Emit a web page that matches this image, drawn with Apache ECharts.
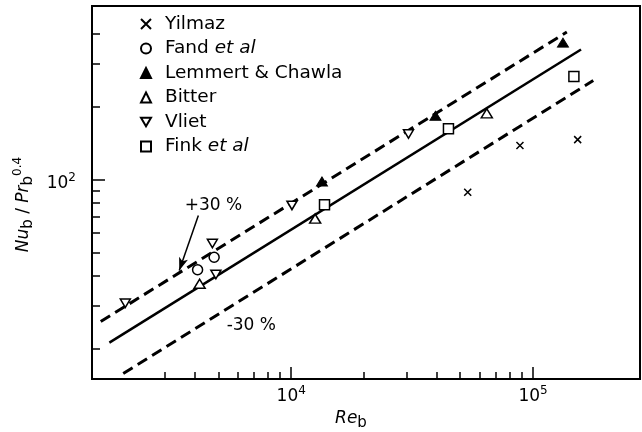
<!DOCTYPE html>
<html>
<head>
<meta charset="utf-8">
<script src="https://cdn.jsdelivr.net/npm/echarts@6/dist/echarts.min.js"></script>
<style>
html,body{margin:0;padding:0;background:#fff;}
#main{width:642px;height:432px;}
</style>
</head>
<body>
<div id="main"></div>
<script>
// points: Re_b and Nu_b/Pr_b^0.4
var yilmazRe = [53700, 88300, 153000];
var yilmazNu = [88.6, 138, 146];
var fandRe = [4100, 4800];
var fandNu = [42.4, 47.7];
var lemmertRe = [13400, 39500, 133000];
var lemmertNu = [98.1, 183, 367];
var bitterRe = [4180, 12560, 64400];
var bitterNu = [37.1, 68.9, 187.5];
var vlietRe = [2060, 4720, 4880, 10070, 30550];
var vlietNu = [30.8, 54.4, 40.5, 78.1, 154];
var finkRe = [13730, 44700, 147600];
var finkNu = [78.6, 162, 266];

// correlation and +-30% lines (end points)
var corrRe = [1770, 158000];
var corrNu = [21.2, 344];
var upperRe = [1630, 138000];
var upperNu = [25.9, 406];
var lowerRe = [2020, 177500];
var lowerNu = [15.8, 256];

// tick values
var xMajor = [10000, 100000];
var xMinor = [3000, 4000, 5000, 6000, 7000, 8000, 9000, 20000, 30000, 40000, 50000, 60000, 70000, 80000, 90000];
var yMajor = [100];
var yMinor = [20, 30, 40, 50, 60, 70, 80, 90, 200, 300, 400];

// annotation positions (data coords)
var plusLabel = [4770, 78.1];
var minusLabel = [6840, 24.9];
var arrowFrom = [4130, 71.0];
var arrowTo = [3443, 42.1];

var FONT = 'DejaVu Sans';

function pairs(xs, ys){
	var out = [];
	for(var i=0;i<xs.length;i++){
		out.push([xs[i], ys[i]]);
	}
	return out;
}

var crossPath = 'path://M0,0L10,10M10,0L0,10';
var downTri = 'path://M0,0L10,0L5,8.5Z';

var powRich = {
	b: {fontFamily: FONT, fontSize: 17, lineHeight: 24, color: '#000'},
	s: {fontFamily: FONT, fontSize: 12, lineHeight: 12, verticalAlign: 'top', color: '#000'}
};
var nameRich = {
	i: {fontFamily: FONT, fontSize: 17, fontStyle: 'italic', lineHeight: 24, color: '#000'},
	n: {fontFamily: FONT, fontSize: 17, lineHeight: 24, color: '#000'},
	sub: {fontFamily: FONT, fontSize: 15, lineHeight: 14, verticalAlign: 'bottom', color: '#000'},
	sup: {fontFamily: FONT, fontSize: 12, lineHeight: 12, verticalAlign: 'top', color: '#000'}
};

function powLabel(v){
	return '{b|10}{s|' + Math.round(Math.log(v) / Math.LN10) + '}';
}

var hollow = {color: '#fff', borderColor: '#000', borderWidth: 1.5, opacity: 1};

var chart = echarts.init(document.getElementById('main'));
var option = {
	animation: false,
	backgroundColor: '#fff',
	grid: {
		left: 92, right: 2, top: 6, bottom: 53,
		show: true, borderColor: '#000', borderWidth: 2,
		outerBoundsMode: 'none'
	},
	legend: {
		orient: 'vertical',
		left: 135,
		top: 9,
		itemWidth: 10,
		itemHeight: 10,
		itemGap: 4.5,
		selectedMode: false,
		data: ['Yilmaz', 'Fand et al', 'Lemmert & Chawla', 'Bitter', 'Vliet', 'Fink et al'],
		formatter: function(name){
			if(name == 'Fand et al') return 'Fand {i|et al}';
			if(name == 'Fink et al') return 'Fink {i|et al}';
			return name;
		},
		textStyle: {
			fontFamily: FONT,
			fontSize: 18.5,
			lineHeight: 20,
			color: '#000',
			padding: [0, 0, 0, 9],
			rich: {
				i: {fontFamily: FONT, fontSize: 18.5, fontStyle: 'italic', color: '#000'}
			}
		}
	},
	xAxis: [
		{
			type: 'log',
			min: 1500,
			max: 277000,
			position: 'bottom',
			axisLine: {lineStyle: {color: '#000', width: 2}},
			axisTick: {inside: true, length: 12, customValues: xMajor, lineStyle: {color: '#000', width: 1.5}},
			axisLabel: {customValues: xMajor, margin: 6, formatter: powLabel, rich: powRich},
			splitLine: {show: false},
			name: '{i|Re}{sub|b}',
			nameLocation: 'middle',
			nameGap: 24,
			nameTextStyle: {rich: nameRich, padding: [0, 30, 0, 0]}
		},
		{
			type: 'log',
			min: 1500,
			max: 277000,
			position: 'bottom',
			axisLine: {show: false},
			axisTick: {inside: true, length: 7, customValues: xMinor, lineStyle: {color: '#000', width: 1.5}},
			axisLabel: {show: false},
			splitLine: {show: false}
		}
	],
	yAxis: [
		{
			type: 'log',
			min: 15,
			max: 520,
			position: 'left',
			axisLine: {lineStyle: {color: '#000', width: 2}},
			axisTick: {inside: true, length: 13, customValues: yMajor, lineStyle: {color: '#000', width: 1.5}},
			axisLabel: {customValues: yMajor, margin: 16, formatter: powLabel, rich: powRich, padding: [8, 0, 0, 0]},
			splitLine: {show: false},
			name: '{i|Nu}{sub|b}{n| / }{i|Pr}{sub|b}{sup|0.4}',
			nameLocation: 'middle',
			nameRotate: 90,
			nameGap: 47,
			nameTextStyle: {rich: nameRich, padding: [0, 24, 0, 0]}
		},
		{
			type: 'log',
			min: 15,
			max: 520,
			position: 'left',
			axisLine: {show: false},
			axisTick: {inside: true, length: 8, customValues: yMinor, lineStyle: {color: '#000', width: 1.5}},
			axisLabel: {show: false},
			splitLine: {show: false}
		}
	],
	series: [
		{
			name: 'corr',
			type: 'line',
			data: pairs(corrRe, corrNu),
			symbol: 'none',
			z: 1,
			lineStyle: {color: '#000', width: 2.5}
		},
		{
			name: 'upper',
			type: 'line',
			data: pairs(upperRe, upperNu),
			symbol: 'none',
			z: 1,
			lineStyle: {color: '#000', width: 3, type: [11, 6]}
		},
		{
			name: 'lower',
			type: 'line',
			data: pairs(lowerRe, lowerNu),
			symbol: 'none',
			z: 1,
			lineStyle: {color: '#000', width: 3, type: [11, 6]}
		},
		{
			name: 'Yilmaz',
			type: 'scatter',
			data: pairs(yilmazRe, yilmazNu),
			symbol: crossPath,
			symbolSize: 7,
			z: 3,
			itemStyle: {color: 'rgba(0,0,0,0)', borderColor: '#000', borderWidth: 1.5, opacity: 1}
		},
		{
			name: 'Fand et al',
			type: 'scatter',
			data: pairs(fandRe, fandNu),
			symbol: 'circle',
			symbolSize: 10,
			z: 3,
			itemStyle: hollow
		},
		{
			name: 'Lemmert & Chawla',
			type: 'scatter',
			data: pairs(lemmertRe, lemmertNu),
			symbol: 'triangle',
			symbolSize: [11, 9],
			z: 3,
			itemStyle: {color: '#000', borderColor: '#000', borderWidth: 1, opacity: 1}
		},
		{
			name: 'Bitter',
			type: 'scatter',
			data: pairs(bitterRe, bitterNu),
			symbol: 'triangle',
			symbolSize: [11, 9],
			z: 3,
			itemStyle: hollow
		},
		{
			name: 'Vliet',
			type: 'scatter',
			data: pairs(vlietRe, vlietNu),
			symbol: downTri,
			symbolSize: [10, 8.5],
			z: 3,
			itemStyle: hollow
		},
		{
			name: 'Fink et al',
			type: 'scatter',
			data: pairs(finkRe, finkNu),
			symbol: 'rect',
			symbolSize: 10,
			z: 3,
			itemStyle: hollow
		},
		{
			name: 'notes',
			type: 'scatter',
			symbolSize: 0,
			z: 4,
			silent: true,
			itemStyle: {opacity: 1},
			data: [
				{value: plusLabel, label: {formatter: '+30 %'}},
				{value: minusLabel, label: {formatter: '-30 %'}}
			],
			label: {show: true, position: 'inside', fontFamily: FONT, fontSize: 17, color: '#000'},
			markLine: {
				silent: true,
				symbol: ['none', 'arrow'],
				symbolSize: [7, 13],
				label: {show: false},
				lineStyle: {color: '#000', width: 1.5, type: 'solid', opacity: 1},
				data: [[{coord: arrowFrom}, {coord: arrowTo}]]
			}
		}
	]
};
chart.setOption(option);
</script>
</body>
</html>
